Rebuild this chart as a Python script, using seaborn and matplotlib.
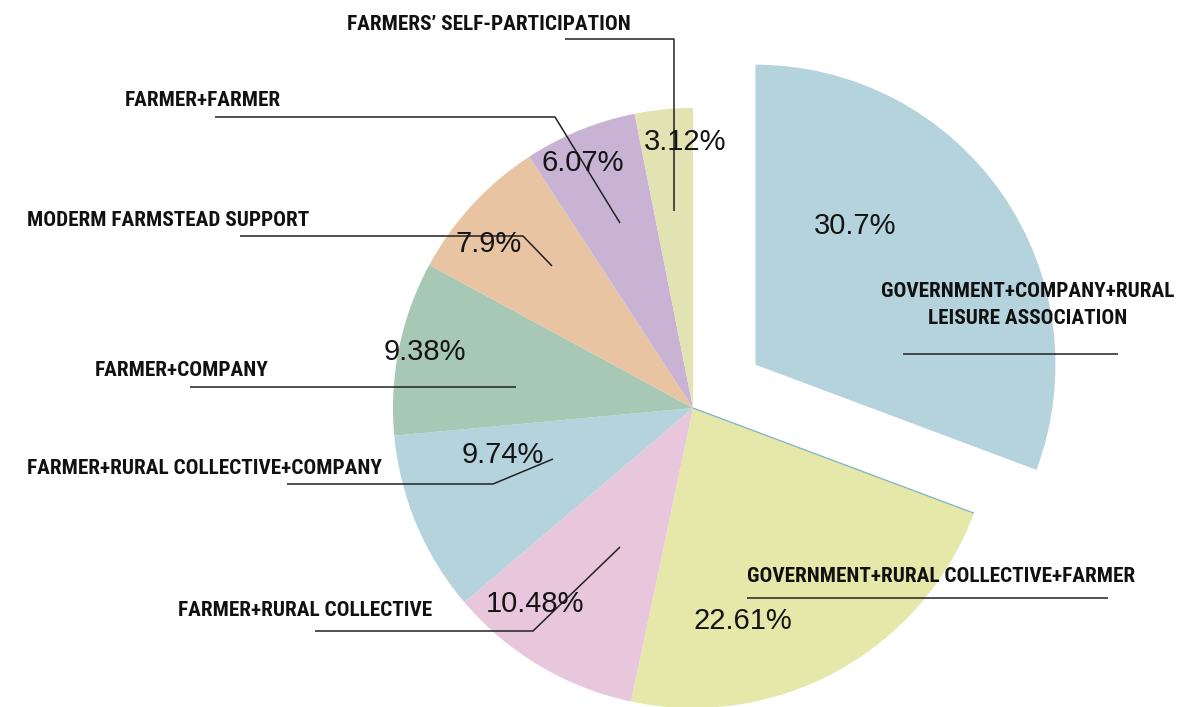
import numpy as np
import matplotlib
matplotlib.use("Agg")
import matplotlib.pyplot as plt
import seaborn as sns

# Share of each rural-tourism participation model (%)
categories = [
    "GOVERNMENT+COMPANY+RURAL\nLEISURE ASSOCIATION",
    "GOVERNMENT+RURAL COLLECTIVE+FARMER",
    "FARMER+RURAL COLLECTIVE",
    "FARMER+RURAL COLLECTIVE+COMPANY",
    "FARMER+COMPANY",
    "MODERM FARMSTEAD SUPPORT",
    "FARMER+FARMER",
    "FARMERS\u2019 SELF-PARTICIPATION",
]
shares = [30.7, 22.61, 10.48, 9.74, 9.38, 7.9, 6.07, 3.12]
pct_labels = ["30.7%", "22.61%", "10.48%", "9.74%", "9.38%", "7.9%", "6.07%", "3.12%"]

colors = ["#b5d3dc", "#e5e8a9", "#e8c7dc", "#b5d3dc",
          "#a7c8b5", "#e8c4a3", "#c9b3d4", "#e3e2b3"]

sns.set_theme(style="white")
plt.rcParams["font.family"] = ["Liberation Sans", "DejaVu Sans"]

W, H = 1198, 707
fig = plt.figure(figsize=(W / 100, H / 100), dpi=100)
ax = fig.add_axes([0, 0, 1, 1])
ax.set_xlim(0, W)
ax.set_ylim(0, H)
ax.set_aspect("equal")
ax.axis("off")


def Y(y):
    """Convert a top-down pixel row to axis units."""
    return H - y


cx, cy, radius = 693, Y(408), 300
# pie() offsets exploded wedges in data units
explode = [76] + [0] * (len(shares) - 1)

wedges, _ = ax.pie(shares, colors=colors, startangle=90, counterclock=False,
                   radius=radius, center=(cx, cy), explode=explode,
                   wedgeprops=dict(linewidth=0))
ax.set_xlim(0, W)
ax.set_ylim(0, H)

# thin edge between the detached slice and the neighbouring one
edge_ang = np.deg2rad(90 - shares[0] / sum(shares) * 360)
ax.plot([cx, cx + radius * np.cos(edge_ang)], [cy, cy + radius * np.sin(edge_ang)],
        color="#7fb2c6", lw=0.9, solid_capstyle="butt")

# label layout: text anchor, alignment, leader polyline, percentage position
layout = [
    dict(txt=(1028, 305), ha="center", line=[(903, 354), (1118, 354)], pct=(855, 226)),
    dict(txt=(747, 576), ha="left", line=[(747, 598), (1108, 598)], pct=(743, 621)),
    dict(txt=(178, 610), ha="left", line=[(315, 631), (533, 631), (620, 547)], pct=(535, 604)),
    dict(txt=(27, 468), ha="left", line=[(287, 484), (493, 484), (553, 459)], pct=(503, 455)),
    dict(txt=(95, 370), ha="left", line=[(190, 387), (516, 387)], pct=(425, 352)),
    dict(txt=(27, 221), ha="left", line=[(240, 236), (523, 236), (552, 266)], pct=(489, 244)),
    dict(txt=(125, 101), ha="left", line=[(215, 117), (555, 117), (620, 223)], pct=(583, 163)),
    dict(txt=(347, 24), ha="left", line=[(565, 39), (674, 39), (674, 211)], pct=(685, 142)),
]

label_font = dict(family=["Roboto Condensed", "Liberation Sans Narrow", "DejaVu Sans"],
                  fontweight="bold", fontstretch="condensed", fontsize=15.3,
                  color="#111111")

for name, pct, lay in zip(categories, pct_labels, layout):
    xs = [p[0] for p in lay["line"]]
    ys = [Y(p[1]) for p in lay["line"]]
    ax.plot(xs, ys, color="#222222", lw=1.1, solid_capstyle="butt", zorder=3)
    ax.text(lay["txt"][0], Y(lay["txt"][1]), name, ha=lay["ha"], va="center",
            linespacing=1.55, zorder=4, **label_font)
    ax.text(lay["pct"][0], Y(lay["pct"][1]), pct, ha="center", va="center",
            fontsize=21, fontweight="normal", color="#141414", zorder=4)

fig.savefig("out.png", dpi=100, facecolor="white")
